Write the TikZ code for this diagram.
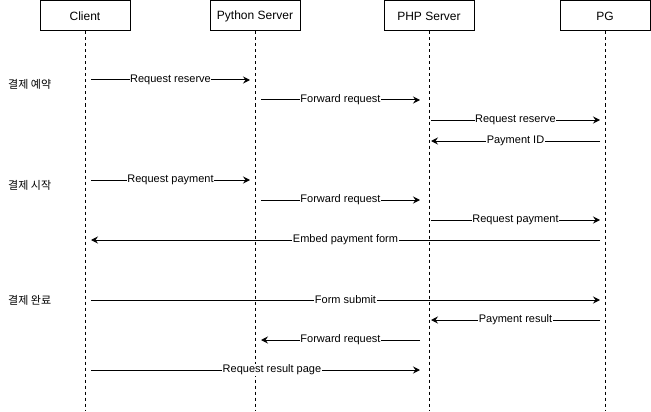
\documentclass[tikz,border=0pt]{standalone}
\usepackage{fontspec}
\setmainfont{Liberation Sans}
\newfontfamily\krfont{Noto Sans CJK KR}
\usetikzlibrary{arrows.meta,calc}
\tikzset{
  actor/.style={draw=black,line width=1pt,minimum width=90pt,minimum height=30pt,inner sep=0pt,font=\fontsize{12}{14}\selectfont},
  lifeline/.style={draw=black,line width=1pt,dash pattern=on 3pt off 3pt},
  msg/.style={draw=black,line width=1pt,-{Stealth[length=7pt,width=7pt,inset=2.5pt]}},
  lbl/.style={fill=white,inner sep=0.5pt,font=\fontsize{11}{13}\selectfont},
  phase/.style={anchor=west,inner sep=0pt,font=\krfont\fontsize{11}{13}\selectfont},
}
\begin{document}
\begin{tikzpicture}[x=1pt,y=-1pt]
\useasboundingbox (0,0) rectangle (651,412);
% actors
\node[actor] (client) at (85,16) {Client};
\node[actor] (python) at (255,16) {Python Server};
\node[actor] (php) at (429,16) {PHP Server};
\node[actor] (pg) at (605,16) {PG};
% lifeline ends
\coordinate (clientEnd) at (85,411);
\coordinate (pythonEnd) at (255,411);
\coordinate (phpEnd) at (429,411);
\coordinate (pgEnd) at (605,411);
\draw[lifeline] (client.south) -- (clientEnd);
\draw[lifeline] (python.south) -- (pythonEnd);
\draw[lifeline] (php.south) -- (phpEnd);
\draw[lifeline] (pg.south) -- (pgEnd);
% message rows
\foreach \n/\y in {r1/80,r2/100,r3/120,r4/141,r5/180,r6/200,r7/220,r8/240,r9/300,r10/320,r11/340,r12/370}{
  \coordinate (\n) at (0,\y);
}
% phase labels
\node[phase] (p1) at (8,84) {결제 예약};
\node[phase] (p2) at (8,185) {결제 시작};
\node[phase] (p3) at (8,300) {결제 완료};
% messages
\draw[msg] ($(client|-r1)+(6,0)$) -- node[lbl]{Request reserve} ($(python|-r1)+(-5,0)$);
\draw[msg] ($(python|-r2)+(6,0)$) -- node[lbl]{Forward request} ($(php|-r2)+(-9,0)$);
\draw[msg] ($(php|-r3)+(2,0)$) -- node[lbl]{Request reserve} ($(pg|-r3)+(-5,0)$);
\draw[msg] ($(pg|-r4)+(-5,0)$) -- node[lbl]{Payment ID} ($(php|-r4)+(2,0)$);
\draw[msg] ($(client|-r5)+(6,0)$) -- node[lbl]{Request payment} ($(python|-r5)+(-5,0)$);
\draw[msg] ($(python|-r6)+(6,0)$) -- node[lbl]{Forward request} ($(php|-r6)+(-9,0)$);
\draw[msg] ($(php|-r7)+(2,0)$) -- node[lbl]{Request payment} ($(pg|-r7)+(-5,0)$);
\draw[msg] ($(pg|-r8)+(-5,0)$) -- node[lbl]{Embed payment form} ($(client|-r8)+(6,0)$);
\draw[msg] ($(client|-r9)+(6,0)$) -- node[lbl]{Form submit} ($(pg|-r9)+(-5,0)$);
\draw[msg] ($(pg|-r10)+(-5,0)$) -- node[lbl]{Payment result} ($(php|-r10)+(2,0)$);
\draw[msg] ($(php|-r11)+(-9,0)$) -- node[lbl]{Forward request} ($(python|-r11)+(6,0)$);
\draw[msg] ($(client|-r12)+(6,0)$) -- node[lbl,pos=0.55]{Request result page} ($(php|-r12)+(-9,0)$);
\end{tikzpicture}
\end{document}
